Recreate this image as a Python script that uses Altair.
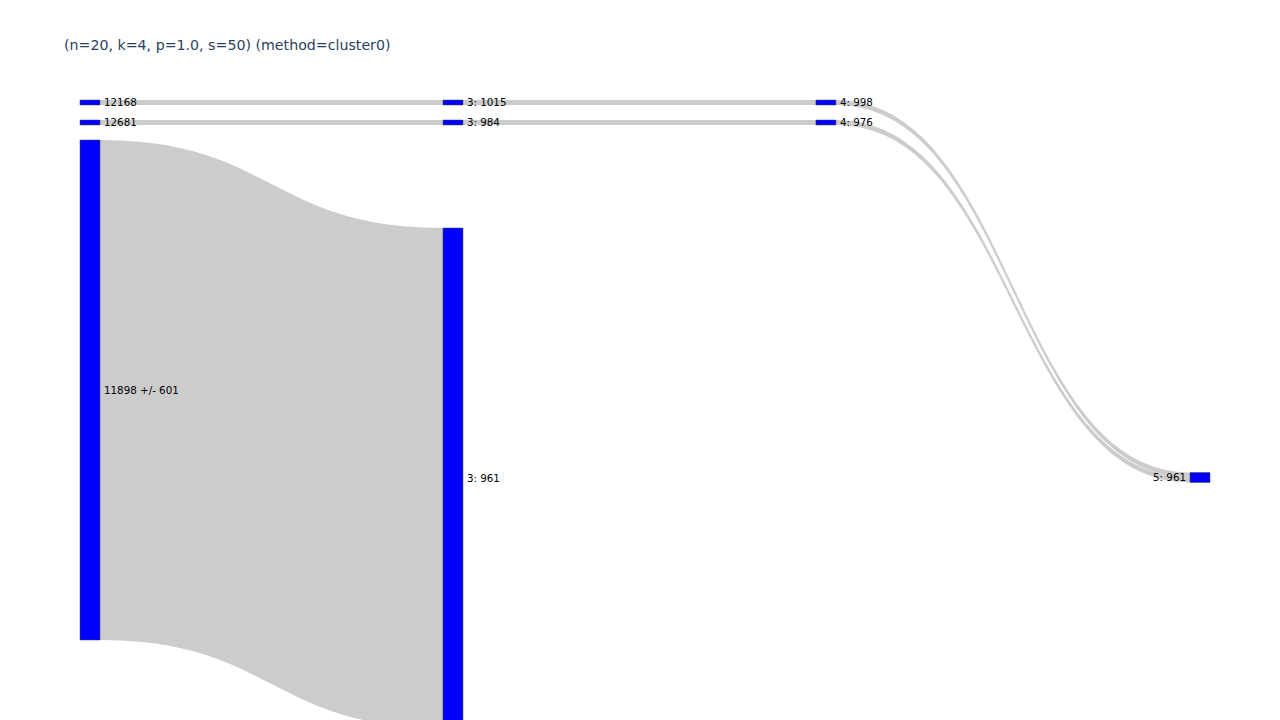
import altair as alt
import numpy as np
import pandas as pd

alt.data_transformers.disable_max_rows()

# ---------------- data ----------------
title_text = "(n=20, k=4, p=1.0, s=50) (method=cluster0)"

node_labels = ["12168", "12681", "11898 +/- 601",
               "3: 1015", "3: 984", "3: 961",
               "4: 998", "4: 976",
               "5: 961"]
node_column = [0, 0, 0, 1, 1, 1, 2, 2, 3]
# column positions as fractions of the horizontal span (like plotly node.x)
column_pos = [0.0, 0.327, 0.663, 1.0]
# node top positions in flow units along each column (like plotly node.y)
node_top = [0, 4, 8, 0, 4, 25.6, 0, 4, 74.5]

# links: source, target, number of unit strands (each strand = value 1)
link_source = [0, 1, 2, 3, 4, 6, 7]
link_target = [3, 4, 5, 6, 7, 8, 8]
link_strands = [1, 1, 100, 1, 1, 1, 1]

# ---------------- layout ----------------
NODE_THICK = 20 / 1110.0  # node thickness as fraction of span

n_nodes = len(node_labels)
out_sum = [0] * n_nodes
in_sum = [0] * n_nodes
for s, t, v in zip(link_source, link_target, link_strands):
    out_sum[s] += v
    in_sum[t] += v
node_size = [max(a, b) for a, b in zip(out_sum, in_sum)]

nodes = pd.DataFrame({
    "label": node_labels,
    "x": [column_pos[c] for c in node_column],
    "x2": [column_pos[c] + NODE_THICK for c in node_column],
    "y": node_top,
    "y2": [t + s for t, s in zip(node_top, node_size)],
    "col": node_column,
})
nodes["ym"] = (nodes["y"] + nodes["y2"]) / 2

out_off = [0.0] * n_nodes
in_off = [0.0] * n_nodes
rows = []
ts = np.linspace(0, 1, 41)
strand_id = 0
for s, t, v in zip(link_source, link_target, link_strands):
    x0 = column_pos[node_column[s]] + NODE_THICK
    x1 = column_pos[node_column[t]]
    xm = (x0 + x1) / 2
    for k in range(v):
        ys0 = node_top[s] + out_off[s]
        yt0 = node_top[t] + in_off[t]
        out_off[s] += 1
        in_off[t] += 1
        for i, tt in enumerate(ts):
            bx = (1 - tt) ** 3 * x0 + 3 * (1 - tt) ** 2 * tt * xm + 3 * (1 - tt) * tt ** 2 * xm + tt ** 3 * x1
            f = 3 * tt ** 2 - 2 * tt ** 3
            ytop = ys0 + (yt0 - ys0) * f
            rows.append({"strand": "s%d" % strand_id, "lx": float(bx), "ly": float(ytop), "ly2": float(ytop + 1)})
        strand_id += 1
links = pd.DataFrame(rows)

# ---------------- chart ----------------
xs = alt.Scale(domain=[0, 1], range=[80, 1190])
ys = alt.Scale(domain=[-20, 124], range=[0, 720])

link_layer = alt.Chart(links).mark_area(color="black", fillOpacity=0.2, orient="vertical").encode(
    x=alt.X("lx:Q", scale=xs, axis=None),
    y=alt.Y("ly:Q", scale=ys, axis=None, stack=False),
    y2="ly2:Q",
    detail="strand:N",
)

node_layer = alt.Chart(nodes).mark_rect(color="#0000ff", stroke="#444444", strokeWidth=0.5).encode(
    x=alt.X("x:Q", scale=xs, axis=None),
    x2="x2:Q",
    y=alt.Y("y:Q", scale=ys, axis=None),
    y2="y2:Q",
)

label_font = dict(font="DejaVu Sans", fontSize=10.3, color="black", baseline="middle")

labels_right = alt.Chart(nodes[nodes["col"] < 3]).mark_text(align="left", dx=4, dy=0.5, **label_font).encode(
    x=alt.X("x2:Q", scale=xs, axis=None),
    y=alt.Y("ym:Q", scale=ys, axis=None),
    text="label:N",
)

labels_left = alt.Chart(nodes[nodes["col"] == 3]).mark_text(align="right", dx=-4, dy=0.5, **label_font).encode(
    x=alt.X("x:Q", scale=xs, axis=None),
    y=alt.Y("ym:Q", scale=ys, axis=None),
    text="label:N",
)

title_layer = alt.Chart(pd.DataFrame({"t": [title_text]})).mark_text(
    align="left", baseline="middle", font="DejaVu Sans", fontSize=14.2, color="#2a3f5f"
).encode(
    x=alt.value(64), y=alt.value(45.5), text="t:N"
)

chart = alt.layer(link_layer, node_layer, labels_right, labels_left, title_layer).properties(
    width=1280, height=720, autosize="none", padding=0
).configure_view(stroke=None)

chart.save("out.html", embed_options={"renderer": "svg", "actions": False})
